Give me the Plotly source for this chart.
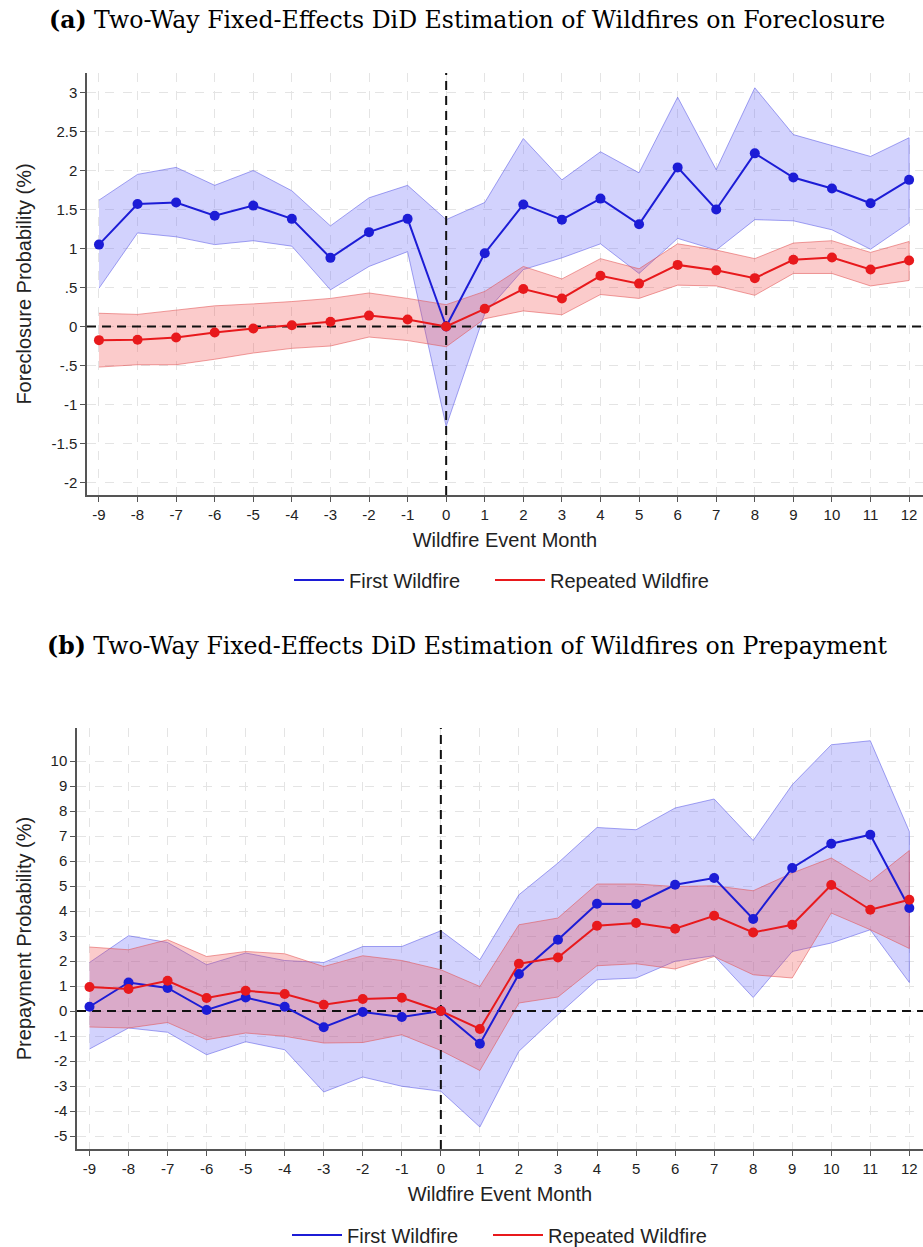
import plotly.graph_objects as go

# ---------------- data ----------------
months = list(range(-9, 13))
month_labels = [str(m) for m in months]

# Panel (a): Foreclosure
fc_first = [1.05, 1.57, 1.59, 1.42, 1.55, 1.38, 0.88, 1.21, 1.38, 0.0,
            0.94, 1.565, 1.37, 1.64, 1.31, 2.04, 1.50, 2.22, 1.91, 1.77, 1.58, 1.88]
fc_first_hi = [1.62, 1.95, 2.04, 1.81, 2.00, 1.74, 1.29, 1.65, 1.81, 1.37,
               1.59, 2.41, 1.88, 2.24, 1.97, 2.94, 2.01, 3.06, 2.46, 2.32, 2.18, 2.42]
fc_first_lo = [0.49, 1.20, 1.15, 1.05, 1.10, 1.03, 0.47, 0.77, 0.96, -1.28,
               0.17, 0.73, 0.88, 1.06, 0.68, 1.13, 0.98, 1.37, 1.355, 1.24, 0.99, 1.33]
fc_rep = [-0.175, -0.17, -0.14, -0.077, -0.026, 0.017, 0.06, 0.14, 0.09, 0.0,
          0.227, 0.48, 0.36, 0.65, 0.55, 0.79, 0.72, 0.62, 0.855, 0.885, 0.73, 0.846]
fc_rep_hi = [0.17, 0.155, 0.21, 0.265, 0.29, 0.32, 0.36, 0.43, 0.36, 0.28,
             0.45, 0.77, 0.61, 0.87, 0.74, 1.06, 0.98, 0.87, 1.07, 1.10, 0.95, 1.09]
fc_rep_lo = [-0.52, -0.49, -0.49, -0.42, -0.34, -0.28, -0.25, -0.135, -0.18, -0.26,
             0.10, 0.20, 0.15, 0.41, 0.36, 0.53, 0.52, 0.40, 0.68, 0.68, 0.52, 0.59]

# Panel (b): Prepayment
pp_first = [0.17, 1.14, 0.92, 0.04, 0.54, 0.17, -0.65, -0.04, -0.24, 0.0,
            -1.31, 1.48, 2.85, 4.29, 4.28, 5.05, 5.32, 3.68, 5.72, 6.69, 7.05, 4.12]
pp_first_hi = [1.94, 3.01, 2.74, 1.85, 2.32, 2.02, 1.94, 2.58, 2.58, 3.21,
               2.05, 4.65, 5.92, 7.34, 7.25, 8.12, 8.48, 6.82, 9.05, 10.65, 10.81, 7.18]
pp_first_lo = [-1.52, -0.68, -0.85, -1.75, -1.23, -1.55, -3.24, -2.64, -3.01, -3.21,
               -4.64, -1.61, -0.15, 1.25, 1.32, 1.99, 2.21, 0.54, 2.38, 2.72, 3.25, 1.14]
pp_rep = [0.96, 0.88, 1.21, 0.52, 0.81, 0.68, 0.25, 0.48, 0.53, 0.0,
          -0.72, 1.89, 2.14, 3.41, 3.52, 3.29, 3.81, 3.14, 3.45, 5.04, 4.05, 4.45]
pp_rep_hi = [2.56, 2.45, 2.85, 2.18, 2.38, 2.29, 1.78, 2.21, 2.02, 1.65,
             0.98, 3.45, 3.72, 5.08, 5.08, 4.98, 5.01, 4.81, 5.52, 6.12, 5.18, 6.42]
pp_rep_lo = [-0.64, -0.68, -0.46, -1.15, -0.88, -1.01, -1.28, -1.26, -0.95, -1.58,
             -2.38, 0.32, 0.56, 1.81, 1.89, 1.68, 2.18, 1.45, 1.32, 3.92, 3.25, 2.50]

fc_ticks = [-2, -1.5, -1, -0.5, 0, 0.5, 1, 1.5, 2, 2.5, 3]
fc_ticklabels = ["-2", "-1.5", "-1", "-.5", "0", ".5", "1", "1.5", "2", "2.5", "3"]
pp_ticks = list(range(-5, 11))
pp_ticklabels = [str(v) for v in pp_ticks]

series_names = ["First Wildfire", "Repeated Wildfire"]
title_a = "<b>(a)</b> Two-Way Fixed-Effects DiD Estimation of Wildfires on Foreclosure"
title_b = "<b>(b)</b> Two-Way Fixed-Effects DiD Estimation of Wildfires on Prepayment"

# axis ranges
fc_xrange = [-9.31, 12.36]
fc_yrange = [-2.16, 3.25]
pp_xrange = [-9.32, 12.35]
pp_yrange = [-5.52, 11.32]

# ---------------- style ----------------
W, H = 923, 1247
BLUE = "#1c1cd6"
RED = "#e8191c"
BLUE_FILL = "rgba(105,105,250,0.30)"
RED_FILL = "rgba(240,70,70,0.28)"
BLUE_EDGE = "rgba(90,90,230,0.55)"
RED_EDGE = "rgba(225,80,80,0.55)"
SANS = "Liberation Sans, Arial, sans-serif"
SERIF = "DejaVu Serif, serif"
REF_LINE = dict(color="#111111", width=2, dash="9px,6px")

fig = go.Figure()


def band(xa, ya, hi, lo, fill, edge):
    fig.add_trace(go.Scatter(
        x=months + months[::-1], y=hi + lo[::-1], xaxis=xa, yaxis=ya,
        fill="toself", fillcolor=fill, mode="lines",
        line=dict(color=edge, width=1), hoverinfo="skip", showlegend=False))


def line(xa, ya, vals, color):
    fig.add_trace(go.Scatter(
        x=months, y=vals, xaxis=xa, yaxis=ya, mode="lines+markers",
        line=dict(color=color, width=2), marker=dict(color=color, size=10),
        showlegend=False))


def ref_lines(xa, ya, xr, yr):
    fig.add_trace(go.Scatter(x=[0, 0], y=yr, xaxis=xa, yaxis=ya, mode="lines",
                             line=REF_LINE, hoverinfo="skip", showlegend=False))
    fig.add_trace(go.Scatter(x=xr, y=[0, 0], xaxis=xa, yaxis=ya, mode="lines",
                             line=REF_LINE, hoverinfo="skip", showlegend=False))


band("x", "y", fc_first_hi, fc_first_lo, BLUE_FILL, BLUE_EDGE)
band("x", "y", fc_rep_hi, fc_rep_lo, RED_FILL, RED_EDGE)
ref_lines("x", "y", fc_xrange, fc_yrange)
line("x", "y", fc_first, BLUE)
line("x", "y", fc_rep, RED)

band("x2", "y2", pp_first_hi, pp_first_lo, BLUE_FILL, BLUE_EDGE)
band("x2", "y2", pp_rep_hi, pp_rep_lo, RED_FILL, RED_EDGE)
ref_lines("x2", "y2", pp_xrange, pp_yrange)
line("x2", "y2", pp_first, BLUE)
line("x2", "y2", pp_rep, RED)

# legend-only entries, one legend per entry so each can be placed
legend_ids = [["legend", "legend2"], ["legend3", "legend4"]]
for panel, (xa, ya) in enumerate([("x", "y"), ("x2", "y2")]):
    for k, (name, col) in enumerate(zip(series_names, [BLUE, RED])):
        fig.add_trace(go.Scatter(x=[None], y=[None], mode="lines", name=name,
                                 line=dict(color=col, width=2),
                                 legend=legend_ids[panel][k], xaxis=xa, yaxis=ya))

axis_common = dict(
    showline=True, linecolor="#555555", linewidth=1.5,
    ticks="outside", ticklen=5, tickcolor="#555555", tickwidth=1.2,
    showgrid=True, gridcolor="#e4e4e4", griddash="dash", gridwidth=1,
    zeroline=False, tickfont=dict(family=SANS, size=15, color="#222222"),
    mirror=False,
)
title_font = dict(family=SANS, size=20, color="#222222")
legend_font = dict(family=SANS, size=20, color="#222222")


def legend_box(xpx, ypx):
    return dict(orientation="h", x=xpx / W, xanchor="left", y=1 - ypx / H, yanchor="middle",
                font=legend_font, itemwidth=50, bgcolor="rgba(0,0,0,0)",
                borderwidth=0)


fig.update_layout(
    width=W, height=H, margin=dict(l=0, r=0, t=0, b=0, autoexpand=False),
    paper_bgcolor="white", plot_bgcolor="white",
    xaxis=dict(domain=[87 / W, 1], range=fc_xrange, tickvals=months, ticktext=month_labels,
               title=dict(text="Wildfire Event Month", font=title_font, standoff=11),
               anchor="y", **axis_common),
    yaxis=dict(domain=[1 - 495 / H, 1 - 73 / H], range=fc_yrange,
               tickvals=fc_ticks, ticktext=fc_ticklabels,
               title=dict(text="Foreclosure Probability (%)", font=title_font, standoff=14),
               anchor="x", **axis_common),
    xaxis2=dict(domain=[77 / W, 1], range=pp_xrange, tickvals=months, ticktext=month_labels,
                title=dict(text="Wildfire Event Month", font=title_font, standoff=11),
                anchor="y2", **axis_common),
    yaxis2=dict(domain=[1 - 1149 / H, 1 - 728 / H], range=pp_yrange,
                tickvals=pp_ticks, ticktext=pp_ticklabels,
                title=dict(text="Prepayment Probability (%)", font=title_font, standoff=14),
                anchor="x2", **axis_common),
    legend=legend_box(289, 580),
    legend2=legend_box(490, 580),
    legend3=legend_box(287, 1235),
    legend4=legend_box(488, 1235),
    annotations=[
        dict(text=title_a, x=467 / W, y=1 - 20 / H, xref="paper", yref="paper",
             showarrow=False, xanchor="center", yanchor="middle",
             font=dict(family=SERIF, size=23.6, color="black")),
        dict(text=title_b, x=467 / W, y=1 - 646 / H, xref="paper", yref="paper",
             showarrow=False, xanchor="center", yanchor="middle",
             font=dict(family=SERIF, size=23.6, color="black")),
    ],
)

fig.write_html("out.html")
